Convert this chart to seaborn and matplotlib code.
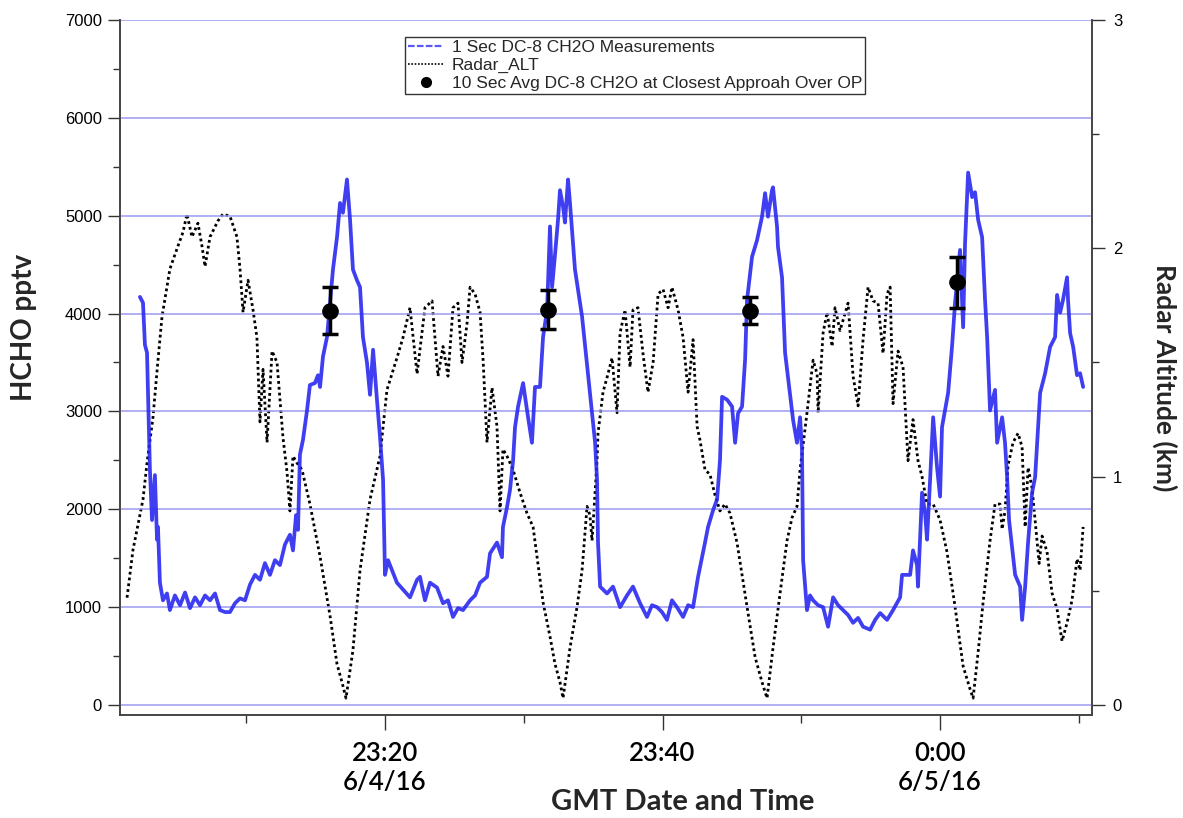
import numpy as np
import pandas as pd
import matplotlib
matplotlib.use("Agg")
import matplotlib.pyplot as plt
import seaborn as sns
from matplotlib.lines import Line2D
from matplotlib.ticker import FixedLocator, MultipleLocator

# ---------------- data (time = minutes after 23:00 GMT, 6/4/16) ----------------
hcho_t = [2.34, 2.56, 2.70, 2.85, 3.06, 3.21, 3.42, 3.57, 3.64, 3.78, 4.00, 4.29, 4.50, 4.86,
          5.23, 5.59, 5.95, 6.31, 6.67, 7.03, 7.39, 7.75, 8.11, 8.47, 8.83, 9.19, 9.55, 9.91,
          10.27, 10.63, 10.99, 11.35, 11.71, 12.07, 12.43, 12.79, 13.15, 13.37, 13.59, 13.73,
          13.87, 14.09, 14.38, 14.59, 14.95, 15.17, 15.32, 15.53, 15.82, 16.04, 16.25, 16.54,
          16.76, 16.97, 17.26, 17.48, 17.69, 17.98, 18.20, 18.41, 18.70, 18.92, 19.14, 19.42,
          19.64, 19.86, 19.93, 20.00, 20.22, 20.50, 20.86, 21.30, 21.80, 22.31, 22.52, 22.88,
          23.24, 23.75, 24.18, 24.54, 24.90, 25.26, 25.62, 26.13, 26.49, 26.85, 27.35, 27.57,
          28.07, 28.43, 28.50, 28.79, 29.01, 29.23, 29.37, 29.59, 29.95, 30.31, 30.59, 30.81,
          31.17, 31.39, 31.68, 31.89, 32.04, 32.25, 32.47, 32.61, 32.83, 32.97, 33.19, 33.33,
          33.55, 33.69, 34.05, 34.20, 35.14, 35.28, 35.35, 35.50, 36.00, 36.43, 36.94, 37.44,
          37.87, 38.38, 38.88, 39.24, 39.60, 39.96, 40.32, 40.68, 41.04, 41.48, 41.84, 42.20,
          42.56, 43.06, 43.28, 43.64, 43.93, 44.14, 44.29, 44.65, 45.01, 45.23, 45.44, 45.73,
          45.95, 46.09, 46.45, 46.81, 47.17, 47.39, 47.60, 47.89, 47.96, 48.25, 48.32, 48.61,
          48.83, 49.41, 49.69, 49.91, 50.05, 50.13, 50.41, 50.63, 50.85, 51.21, 51.57, 51.93,
          52.29, 52.65, 53.01, 53.37, 53.73, 54.09, 54.45, 54.96, 55.32, 55.68, 56.18, 56.61,
          57.12, 57.26, 57.84, 58.05, 58.34, 58.41, 58.70, 58.92, 59.06, 59.28, 59.50, 59.78,
          60.00, 60.14, 60.58, 60.86, 61.08, 61.44, 61.66, 61.80, 62.02, 62.31, 62.52, 62.74,
          63.03, 63.24, 63.39, 63.60, 63.96, 64.11, 64.47, 64.68, 64.83, 64.97, 65.19, 65.41,
          65.77, 65.91, 66.13, 66.34, 66.63, 66.85, 67.21, 67.57, 67.93, 68.29, 68.43, 68.65,
          68.86, 69.15, 69.22, 69.37, 69.59, 69.87, 70.09, 70.31]
hcho_pptv = [4170, 4110, 3680, 3600, 2400, 1890, 2350, 1690, 1820, 1250, 1070, 1140, 970, 1120,
             1020, 1150, 990, 1100, 1020, 1120, 1070, 1140, 970, 950, 950, 1040, 1090, 1070,
             1230, 1330, 1280, 1450, 1330, 1480, 1430, 1640, 1740, 1580, 1940, 1790,
             2560, 2710, 3010, 3270, 3290, 3370, 3250, 3560, 3760, 4110, 4450, 4780,
             5130, 5030, 5370, 4960, 4450, 4340, 4270, 3760, 3500, 3170, 3630, 3120,
             2740, 2300, 1790, 1330, 1480, 1380, 1250, 1180, 1100, 1280, 1310, 1070,
             1250, 1200, 1040, 1070, 900, 990, 970, 1070, 1120, 1250, 1310, 1550,
             1660, 1510, 1820, 2020, 2200, 2500, 2840, 3050, 3290, 2940, 2680, 3250,
             3250, 3760, 4040, 4890, 4270, 4600, 4960, 5260, 5090, 4930, 5370, 5130,
             4720, 4450, 4110, 3970, 2680, 2300, 1660, 1210, 1140, 1210, 1000, 1120,
             1210, 1040, 900, 1020, 1000, 950, 870, 1070, 1000, 900, 1020, 1000,
             1310, 1660, 1820, 1990, 2100, 2500, 3150, 3120, 3050, 2680, 2980, 3050,
             3530, 4140, 4580, 4750, 4990, 5230, 4990, 5260, 5290, 4890, 4680, 4370,
             3600, 2910, 2680, 2940, 2610, 1480, 970, 1120, 1070, 1020, 1000, 800,
             1100, 1020, 970, 920, 840, 890, 800, 770, 870, 940, 870, 970,
             1100, 1330, 1330, 1580, 1430, 1210, 2170, 1960, 1690, 2300, 2940, 2430,
             2130, 2840, 3190, 3660, 4110, 4650, 3860, 4720, 5440, 5190, 5240, 4960,
             4780, 4140, 3760, 3010, 3220, 2680, 2940, 2680, 2330, 1890, 1610, 1330,
             1210, 870, 1210, 1660, 2170, 2330, 3190, 3390, 3660, 3760, 4190, 4010,
             4140, 4370, 4140, 3800, 3660, 3370, 3390, 3250]

alt_t = [1.41, 1.84, 2.56, 2.85, 3.28, 3.64, 3.93, 4.50, 5.08, 5.44, 5.73, 6.09, 6.52, 6.81,
         7.03, 7.39, 7.96, 8.32, 8.83, 9.33, 9.55, 9.77, 10.13, 10.49, 10.77, 10.99, 11.21,
         11.50, 11.86, 12.22, 12.65, 12.94, 13.15, 13.37, 13.66, 14.02, 14.59, 15.32, 16.04,
         16.54, 16.90, 17.19, 17.69, 18.20, 18.92, 19.64, 20.14, 20.86, 21.30, 21.80, 22.31,
         22.88, 23.39, 23.82, 24.18, 24.54, 24.90, 25.26, 25.55, 25.91, 26.13, 26.49, 26.85,
         27.07, 27.35, 27.71, 28.07, 28.29, 28.50, 28.79, 29.23, 29.73, 30.23, 30.67, 31.39,
         31.89, 32.25, 32.61, 32.83, 33.33, 33.84, 34.20, 34.56, 34.77, 34.92, 35.28, 35.35,
         35.71, 36.07, 36.36, 36.72, 36.94, 37.30, 37.66, 37.87, 38.23, 38.59, 38.95, 39.32,
         39.68, 40.04, 40.40, 40.68, 41.12, 41.48, 41.84, 42.20, 42.49, 42.70, 43.06, 43.42,
         43.78, 44.14, 44.50, 44.86, 45.37, 46.09, 46.67, 47.17, 47.53, 47.96, 48.47, 48.97,
         49.33, 49.69, 49.91, 50.41, 50.85, 51.14, 51.21, 51.57, 51.86, 52.22, 52.43, 52.79,
         53.37, 53.73, 54.09, 54.45, 54.81, 55.17, 55.53, 55.89, 56.18, 56.40, 56.61, 56.97,
         57.33, 57.69, 58.05, 58.41, 58.70, 59.06, 59.50, 60.00, 60.50, 61.08, 61.66, 62.16,
         62.38, 62.74, 63.10, 63.60, 63.96, 64.32, 64.47, 64.68, 64.90, 65.26, 65.62, 65.91,
         66.13, 66.34, 66.63, 66.99, 67.14, 67.35, 67.71, 68.07, 68.43, 68.79, 69.15, 69.51,
         69.87, 70.09, 70.31]
radar_alt_km = [0.47, 0.68, 0.90, 1.06, 1.26, 1.51, 1.70, 1.91, 2.01, 2.07, 2.15, 2.05, 2.11, 2.01,
                1.92, 2.05, 2.12, 2.15, 2.14, 2.05, 1.91, 1.72, 1.86, 1.73, 1.61, 1.24, 1.47,
                1.15, 1.55, 1.50, 1.17, 1.02, 0.85, 1.09, 1.06, 1.03, 0.88, 0.65, 0.39,
                0.18, 0.10, 0.03, 0.24, 0.59, 0.90, 1.09, 1.38, 1.52, 1.61, 1.74, 1.45,
                1.74, 1.77, 1.44, 1.57, 1.44, 1.74, 1.76, 1.50, 1.67, 1.83, 1.80, 1.72,
                1.51, 1.15, 1.39, 1.22, 0.85, 1.12, 1.09, 1.03, 0.93, 0.84, 0.78, 0.45,
                0.30, 0.18, 0.10, 0.03, 0.25, 0.43, 0.59, 0.87, 0.83, 0.72, 1.07, 1.19,
                1.37, 1.45, 1.52, 1.28, 1.63, 1.73, 1.48, 1.73, 1.74, 1.54, 1.37, 1.50,
                1.80, 1.82, 1.74, 1.83, 1.73, 1.61, 1.37, 1.60, 1.22, 1.16, 1.03, 1.01,
                0.92, 0.85, 0.88, 0.84, 0.71, 0.43, 0.21, 0.10, 0.03, 0.25, 0.49, 0.72,
                0.82, 0.87, 1.03, 1.28, 1.51, 1.45, 1.28, 1.63, 1.72, 1.57, 1.74, 1.64,
                1.76, 1.44, 1.31, 1.60, 1.83, 1.77, 1.76, 1.54, 1.80, 1.83, 1.32, 1.55,
                1.48, 1.07, 1.25, 1.07, 1.00, 0.88, 0.88, 0.81, 0.67, 0.43, 0.17, 0.07,
                0.03, 0.23, 0.45, 0.72, 0.88, 0.88, 0.77, 0.85, 1.05, 1.15, 1.19, 1.13,
                0.78, 1.04, 0.95, 0.72, 0.62, 0.74, 0.67, 0.49, 0.42, 0.28, 0.36, 0.46,
                0.64, 0.59, 0.78]

op_t = [16.04, 31.75, 46.30, 61.20]
op_pptv = [4030, 4040, 4030, 4320]
op_err = [240, 200, 140, 260]

xtick_minutes = [20, 40, 60]
xtick_labels = ["23:20\n6/4/16", "23:40", "0:00\n6/5/16"]
legend_labels = ["1 Sec DC-8 CH2O Measurements", "Radar_ALT",
                 "10 Sec Avg DC-8 CH2O at Closest Approah Over OP"]

# ---------------- style ----------------
sns.set_theme(style="white")
plt.rcParams['font.family'] = ['Liberation Sans', 'DejaVu Sans']

fig = plt.figure(figsize=(11.83, 8.18), dpi=100)
ax = fig.add_axes([0.1014, 0.1259, 0.8217, 0.8497])
ax2 = ax.twinx()
ax.set_zorder(ax2.get_zorder() + 1)
ax.patch.set_visible(False)

df_h = pd.DataFrame({"t": hcho_t, "v": hcho_pptv})
df_a = pd.DataFrame({"t": alt_t, "a": radar_alt_km})

sns.lineplot(data=df_a, x="t", y="a", ax=ax2, color="black", linewidth=2.0,
             linestyle=(0, (1, 1.1)), estimator=None, sort=False)
sns.lineplot(data=df_h, x="t", y="v", ax=ax, color="#2a2af0", linewidth=2.7,
             estimator=None, sort=False, alpha=0.9)
ax.errorbar(op_t, op_pptv, yerr=op_err, fmt="o", color="black", ms=11,
            elinewidth=2.5, capsize=6, capthick=2.5, zorder=5)

ax.set_xlim(0.9, 70.95)
ax.set_ylim(-102, 7000)
ax2.set_ylim(-102 * 3 / 7000, 3)

ax.yaxis.grid(True, color="#9a9af0", linewidth=1.1)
ax.xaxis.grid(False)
ax2.grid(False)
ax.set_axisbelow(True)

ax.set_yticks(range(0, 7001, 1000))
ax.yaxis.set_minor_locator(MultipleLocator(500))
ax2.set_yticks([0, 1, 2, 3])
ax2.yaxis.set_minor_locator(MultipleLocator(0.5))
ax.set_xticks(xtick_minutes)
ax.set_xticklabels(xtick_labels)
ax.xaxis.set_minor_locator(FixedLocator([10, 30, 50, 70]))

ax.tick_params(axis="y", which="major", direction="out", length=9, width=1, labelsize=12,
               pad=4, colors="#333333", labelcolor="black", left=True)
ax.tick_params(axis="y", which="minor", direction="out", length=5, width=1, colors="#333333", left=True)
ax2.tick_params(axis="y", which="major", direction="out", length=9, width=1, labelsize=12,
                pad=6, colors="#333333", labelcolor="black", right=True)
ax2.tick_params(axis="y", which="minor", direction="out", length=5, width=1, colors="#333333", right=True)
ax.tick_params(axis="x", which="major", direction="out", length=11, width=1, pad=8,
               colors="#333333", labelcolor="black", bottom=True)
ax.tick_params(axis="x", which="minor", direction="out", length=6, width=1, colors="#333333", bottom=True)
for lab in ax.get_xticklabels():
    lab.set_fontfamily("Lato")
    lab.set_fontsize(18.5)
    lab.set_fontweight("semibold")

for a in (ax, ax2):
    a.spines["top"].set_visible(False)
    for s in ("left", "right", "bottom"):
        a.spines[s].set_color("#444444")
        a.spines[s].set_linewidth(1.2)

ax.set_xlabel("GMT Date and Time", fontfamily="Lato", fontsize=21, fontweight="bold")
ax.xaxis.set_label_coords(0.579, -0.106)
ax.set_ylabel("HCHO pptv", fontfamily="Lato", fontsize=20, fontweight="bold")
ax.yaxis.set_label_coords(-0.085, 0.557)
ax2.set_ylabel("Radar Altitude (km)", fontfamily="Lato", fontsize=19, fontweight="bold",
               rotation=270, va="center")
ax2.yaxis.set_label_coords(1.075, 0.485)

handles = [Line2D([], [], color="#5a5af2", lw=1.6, ls=(0, (3, 1))),
           Line2D([], [], color="black", lw=1.2, ls=(0, (1, 1))),
           Line2D([], [], color="black", marker="o", ls="none", ms=7)]
leg = ax.legend(handles, legend_labels, loc="upper left", bbox_to_anchor=(0.293, 0.976),
                frameon=True, fancybox=False, edgecolor="#333333", framealpha=1,
                fontsize=12.5, handlelength=2.0, borderpad=0.2, labelspacing=0.15,
                handletextpad=0.5, borderaxespad=0)
leg.get_frame().set_linewidth(1.0)

fig.savefig("out.png", dpi=100)
